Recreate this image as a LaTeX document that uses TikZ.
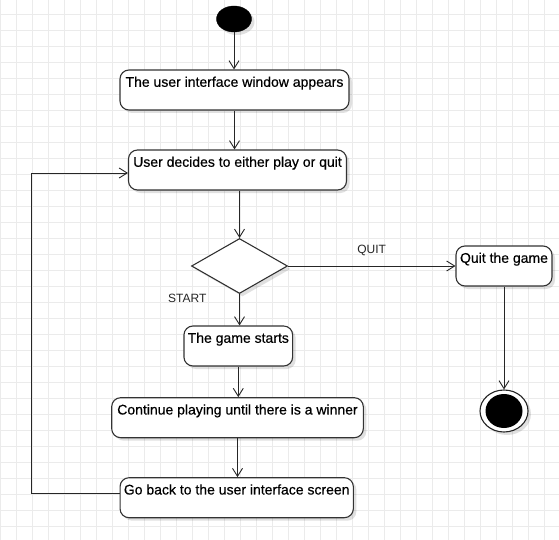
\documentclass[tikz,border=0pt]{standalone}
\usepackage{fontspec}
\setmainfont{Liberation Sans}
\newfontfamily\boxfont[FakeBold=0.45]{Liberation Sans}
\usetikzlibrary{arrows.meta,shapes.geometric,shadows}
\tikzset{
  gridline/.style={draw=black!8, line width=0.8pt},
  shad/.style={drop shadow={shadow xshift=3pt,shadow yshift=-3pt,fill=black,opacity=0.12}},
  box/.style={draw=black!80, line width=1.1pt, rounded corners=9pt, fill=white, minimum height=40pt, inner sep=0pt, shad},
  txt/.style={anchor=north, inner xsep=0pt, inner ysep=7pt, font=\boxfont\fontsize{14}{16}\selectfont, text=black},
  lbl/.style={font=\fontsize{12}{14}\selectfont, text=black!85, inner sep=0pt},
  arr/.style={draw=black!85, line width=0.9pt, -{Straight Barb[length=8pt,width=10pt]}},
}
\begin{document}
\begin{tikzpicture}[x=1pt,y=-1pt]
\useasboundingbox (0,0) rectangle (559,540);
\fill[white] (0,0) rectangle (559,540);
\foreach \i in {0,...,34} {\draw[gridline] (0.5+16*\i,0) -- (0.5+16*\i,540);}
\foreach \j in {0,...,33} {\draw[gridline] (0,14.3+16*\j) -- (559,14.3+16*\j);}

% start
\node[ellipse, fill=black, draw=black, minimum width=35pt, minimum height=26pt, inner sep=0pt, shad] (st) at (234,19) {};

% boxes
\node[box, minimum width=229pt] (b1) at (234.5,90) {};
\node[txt] (b1t) at (b1.north) {The user interface window appears};
\node[box, minimum width=218pt] (b2) at (237.5,170) {};
\node[txt] (b2t) at (b2.north) {User decides to either play or quit};
\node[diamond, draw=black!80, line width=1.1pt, fill=white, minimum width=96pt, minimum height=55pt, inner sep=0pt, aspect=1.745, shad] (d) at (239.5,266) {};
\node[box, minimum width=96pt] (q) at (504,266) {};
\node[txt] (qt) at (q.north) {Quit the game};
\node[box, minimum width=108.7pt] (g) at (238.3,346) {};
\node[txt] (gt) at (g.north) {The game starts};
\node[box, minimum width=251.6pt] (c) at (237.5,417.7) {};
\node[txt] (ct) at (c.north) {Continue playing until there is a winner};
\node[box, minimum width=233.3pt] (r) at (236.7,497.7) {};
\node[txt] (rt) at (r.north) {Go back to the user interface screen};

% end
\node[ellipse, draw=black!85, line width=1.1pt, fill=white, minimum width=48pt, minimum height=42pt, inner sep=0pt, shad] (e) at (504,411) {};
\node[ellipse, fill=black, minimum width=37pt, minimum height=34pt, inner sep=0pt] (ei) at (e) {};

% labels
\node[lbl] (lq) at (371.7,250) {QUIT};
\node[lbl] (ls) at (187.3,298.3) {START};

% connectors
\draw[arr] (st.south) -- (st.south |- b1.north);
\draw[arr] (b1.south) -- (b1.south |- b2.north);
\draw[arr] (d.north |- b2.south) -- (d.north);
\draw[arr] (d.east) -- (q.west);
\draw[arr] (d.south) -- (d.south |- g.north);
\draw[arr] (g.south) -- (g.south |- c.north);
\draw[arr] (c.south) -- (c.south |- r.north);
\draw[arr] (q.south) -- (e.north);
\draw[arr] ([yshift=4pt]r.west) -- ++(-88,0) |- ([yshift=-3pt]b2.west);
\end{tikzpicture}
\end{document}
